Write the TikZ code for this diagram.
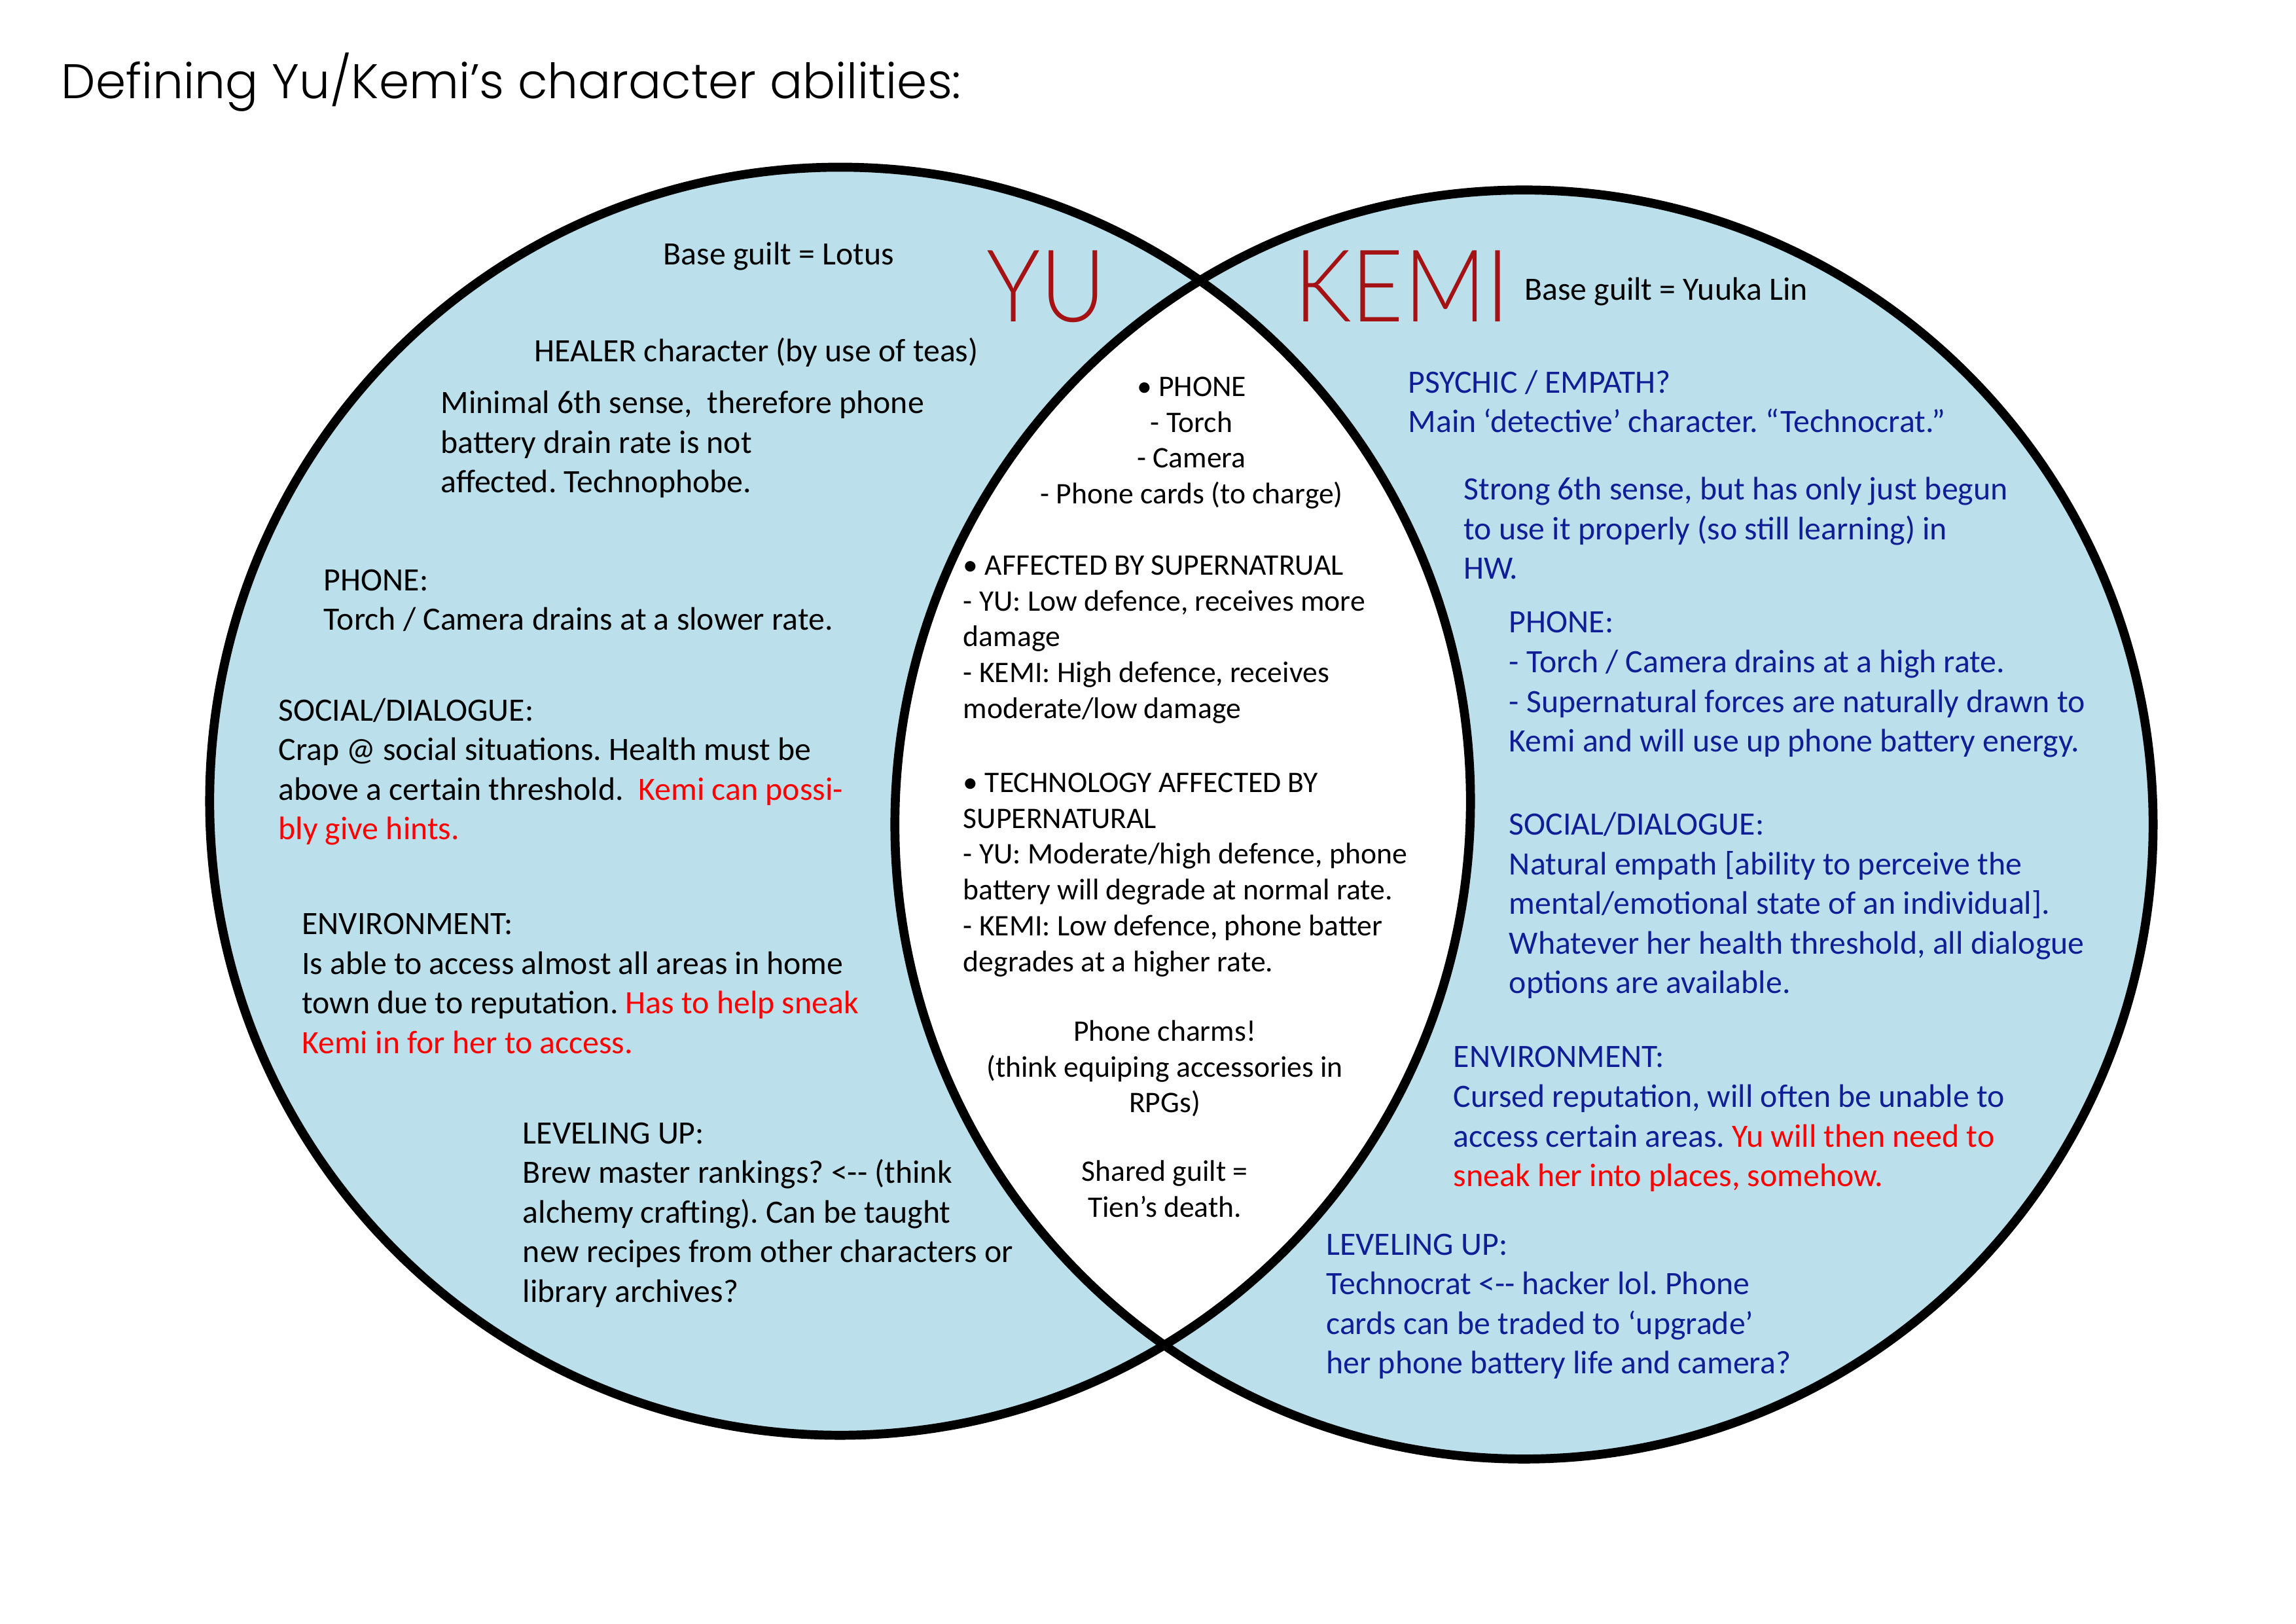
\documentclass[tikz,border=0pt]{standalone}
\usepackage{graphicx}
\usepackage{fontspec}
\setmainfont{Carlito}
\IfFontExistsTF{Poppins Light}{\newfontfamily\titlefont{Poppins Light}}{\newfontfamily\titlefont{Poppins}}
\IfFontExistsTF{Lato Light}{\newfontfamily\namefont{Lato Light}}{\newfontfamily\namefont{Lato}}

\definecolor{vennblue}{RGB}{187,224,235}
\definecolor{kemiblue}{RGB}{16,30,150}
\definecolor{namered}{RGB}{165,18,20}

\newcommand{\bodysize}{\fontsize{12}{14.6}\selectfont\frenchspacing}
\newcommand{\midsize}{\fontsize{11}{13.2}\selectfont\frenchspacing}
\newcommand{\charname}[1]{\scalebox{0.9}[1]{#1}}

\begin{document}
\begin{tikzpicture}[x=0.018929cm, y=-0.018929cm,
    venn/.style={line width=3.3pt},
    oneline/.style={anchor=base west, inner sep=0pt, font=\bodysize},
    block/.style={anchor=north west, inner sep=0pt, align=left, yshift=7.2pt,
        font=\bodysize, execute at begin node=\strut},
    kemiblock/.style={block, text=kemiblue},
    midblock/.style={anchor=north west, inner sep=0pt, align=left, yshift=6.6pt,
        font=\midsize, execute at begin node=\strut},
    midcentre/.style={midblock, anchor=north, align=center},
    charlabel/.style={anchor=base west, inner sep=0pt, text=namered,
        font=\namefont\fontsize{37}{37}\selectfont}
]
\useasboundingbox (0,0) rectangle (1569.1,1109.3);

% Circles
\coordinate (yuc) at (574.1,547.5);
\coordinate (kemic) at (1041.5,563.4);
\fill[vennblue] (yuc) ellipse [x radius=8.158cm, y radius=8.204cm];
\fill[vennblue] (kemic) ellipse [x radius=8.141cm, y radius=8.210cm];
\begin{scope}
    \clip (yuc) ellipse [x radius=8.158cm, y radius=8.204cm];
    \fill[white] (kemic) ellipse [x radius=8.141cm, y radius=8.210cm];
\end{scope}
\draw[venn] (yuc) ellipse [x radius=8.158cm, y radius=8.204cm];
\draw[venn] (kemic) ellipse [x radius=8.141cm, y radius=8.210cm];

% Title and names
\node[anchor=base west, inner sep=0pt, font=\titlefont\fontsize{17.9}{21}\selectfont]
    (title) at (41.6,67.4) {Defining Yu/Kemi’s character abilities:};
\node[charlabel] (yu) at (674,219.7) {\charname{YU}};
\node[charlabel] (kemi) at (884,219.7) {\charname{KEMI}};

% Yu
\node[oneline] (yuguilt) at (453,181.1) {Base guilt = Lotus};
\node[oneline] (yuheal) at (365,247) {HEALER character (by use of teas)};
\node[block] (yusense) at (301,280) {Minimal 6th sense,\ \ therefore phone\\battery drain rate is not\\affected. Technophobe.};
\node[block] (yuphone) at (221,402) {PHONE:\\Torch / Camera drains at a slower rate.};
\node[block] (yusocial) at (190,490) {SOCIAL/DIALOGUE:\\Crap @ social situations. Health must be\\above a certain threshold.\ \ {\color{red}Kemi can possi-}\\{\color{red}bly give hints.}};
\node[block] (yuenv) at (206,637) {ENVIRONMENT:\\Is able to access almost all areas in home\\town due to reputation. {\color{red}Has to help sneak}\\{\color{red}Kemi in for her to access.}};
\node[block] (yulevel) at (357,780) {LEVELING UP:\\Brew master rankings? <-{}- (think\\alchemy crafting). Can be taught\\new recipes from other characters or\\library archives?};

% Shared
\node[midcentre] (sharedphone) at (814.3,269.4) {• PHONE\\- Torch\\- Camera\\- Phone cards (to charge)};
\node[midblock] (sharedsuper) at (658,391.5) {• AFFECTED BY SUPERNATRUAL\\- YU: Low defence, receives more\\damage\\- KEMI: High defence, receives\\moderate/low damage};
\node[midblock] (sharedtech) at (658,540) {• TECHNOLOGY AFFECTED BY\\SUPERNATURAL\\- YU: Moderate/high defence, phone\\battery will degrade at normal rate.\\- KEMI: Low defence, phone batter\\degrades at a higher rate.};
\node[midcentre] (charms) at (796,709) {Phone charms!\\(think equiping accessories in\\RPGs)};
\node[midcentre] (sharedguilt) at (796,805) {Shared guilt =\\Tien’s death.};

% Kemi
\node[oneline] (kemiguilt) at (1041.4,204.9) {Base guilt = Yuuka Lin};
\node[kemiblock] (kemipsy) at (962,266) {PSYCHIC / EMPATH?\\Main ‘detective’ character. “Technocrat.”};
\node[kemiblock] (kemisense) at (1000,339) {Strong 6th sense, but has only just begun\\to use it properly (so still learning) in\\HW.};
\node[kemiblock] (kemiphone) at (1031,431) {PHONE:\\- Torch / Camera drains at a high rate.\\- Supernatural forces are naturally drawn to\\Kemi and will use up phone battery energy.};
\node[kemiblock] (kemisocial) at (1031,568) {SOCIAL/DIALOGUE:\\Natural empath [ability to perceive the\\mental/emotional state of an individual].\\Whatever her health threshold, all dialogue\\options are available.};
\node[kemiblock] (kemienv) at (993,728) {ENVIRONMENT:\\Cursed reputation, will often be unable to\\access certain areas. {\color{red}Yu will then need to}\\{\color{red}sneak her into places, somehow.}};
\node[kemiblock] (kemilevel) at (906,856) {LEVELING UP:\\Technocrat <-{}- hacker lol. Phone\\cards can be traded to ‘upgrade’\\her phone battery life and camera?};

\end{tikzpicture}
\end{document}
